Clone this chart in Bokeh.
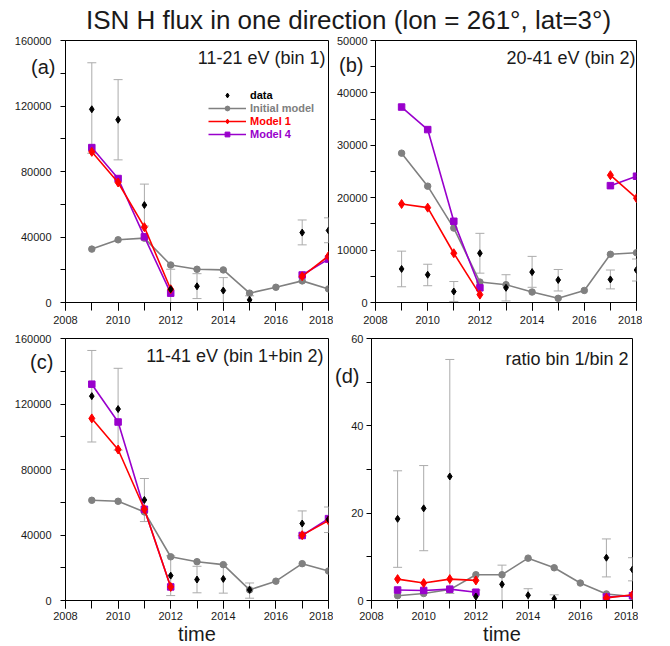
import math
from bokeh.plotting import figure
from bokeh.models import (ColumnDataSource, Whisker, TeeHead, Label, Legend, LegendItem,
                          FixedTicker, BasicTickFormatter, Range1d)
from bokeh.layouts import column, row
from bokeh.embed import file_html
from bokeh.resources import INLINE
from bokeh.core.properties import value

nan = float("nan")

# ---------------- data ----------------
years = [2009, 2010, 2011, 2012, 2013, 2014, 2015, 2016, 2017, 2018]
obs_years = [2009, 2010, 2011, 2012, 2013, 2014, 2015, 2017, 2018]

# panel (a) 11-21 eV (bin 1)
a_data = [118000, 111600, 59500, 8100, 9900, 7300, 1600, 42700, 44000]
a_hi = [146400, 136100, 72300, 20300, 17600, 15200, 4100, 50400, 51700]
a_lo = [91100, 87100, 46700, -3700, 2400, -1200, -2400, 35200, 36500]
a_init = [32600, 38300, 39300, 22900, 20300, 19900, 5700, 9300, 13200, 8300]
a_m1 = [92000, 73300, 46000, 8100, nan, nan, nan, nan, 16000, 28400]
a_m4 = [94600, 75700, 40100, 5700, nan, nan, nan, nan, 16800, 26500]

# panel (b) 20-41 eV (bin 2)
b_data = [6400, 5300, 2100, 9400, 2800, 5800, 4300, 4400, 6200]
b_hi = [9800, 7300, 4000, 13200, 5300, 8800, 6300, 6200, 8300]
b_lo = [3000, 3200, 200, 5600, 300, 2900, 2200, 2600, 4100]
b_init = [28500, 22200, 14200, 3900, 3400, 2000, 800, 2300, 9200, 9500]
b_m1 = [18800, 18100, 9400, 1500, nan, nan, nan, nan, 24300, 19900]
b_m4 = [37300, 33000, 15500, 2800, nan, nan, nan, nan, 22300, 24100]

# panel (c) 11-41 eV (bin 1+bin 2)
c_data = [124800, 116900, 61400, 15200, 12800, 13200, 6500, 47000, 49600]
c_hi = [152700, 141800, 74500, 27300, 20900, 21900, 10700, 54700, 57100]
c_lo = [96800, 91800, 48200, 3000, 4700, 4500, 1400, 39500, 41500]
c_init = [61200, 60600, 54100, 26700, 23700, 21900, 6500, 11800, 22500, 18000]
c_m1 = [111200, 92200, 55700, 8300, nan, nan, nan, nan, 39900, 48800]
c_m4 = [132100, 109000, 55700, 8300, nan, nan, nan, nan, 39700, 50000]

# panel (d) ratio bin 1/bin 2
d_data = [18.7, 21.1, 28.4, 0.9, 3.7, 1.2, 0.4, 9.8, 7.1]
d_hi = [29.7, 30.9, 55.2, 2.4, 8.1, 2.7, 1.3, 14.1, 9.8]
d_lo = [7.6, 11.4, 1.6, -0.4, -0.8, -0.2, -0.6, 5.4, 4.5]
d_init = [1.1, 1.6, 2.5, 5.9, 5.9, 9.7, 7.5, 4.0, 1.5, 0.9]
d_m1 = [4.9, 4.0, 4.9, 4.6, nan, nan, nan, nan, 0.6, 1.3]
d_m4 = [2.4, 2.3, 2.6, 1.9, nan, nan, nan, nan, 0.8, 1.1]

x_major = [2008, 2010, 2012, 2014, 2016, 2018]
x_minor = list(range(2008, 2019))

title_text = "ISN H flux in one direction (lon = 261°, lat=3°)"
legend_labels = ["data", "Initial model", "Model 1", "Model 4"]

FONT = "Liberation Sans"
C_ERR = "#ababab"
C_INIT = "#808080"
C_M1 = "#ff0000"
C_M4 = "#9900cc"
FH = 262


def make_panel(obs, hi, lo, init, m1, m4, ymax, ymajor, yminor, tag, name,
               tag_pos, name_pos, left, right, top, bottom, fw=263,
               ystand=9, xstand=5, xlabel=None):
    p = figure(frame_width=fw, frame_height=FH,
               x_range=Range1d(2008, 2018), y_range=Range1d(0, ymax),
               output_backend="svg", toolbar_location=None,
               min_border_left=left, min_border_right=right,
               min_border_top=top, min_border_bottom=bottom)
    p.xgrid.visible = False
    p.ygrid.visible = False
    p.outline_line_color = "black"
    p.outline_line_width = 1
    p.background_fill_color = "white"
    p.border_fill_color = "white"

    p.xaxis.ticker = FixedTicker(ticks=x_major, minor_ticks=x_minor)
    p.yaxis.ticker = FixedTicker(ticks=ymajor, minor_ticks=yminor)
    p.yaxis.formatter = BasicTickFormatter(use_scientific=False)
    p.xaxis.major_tick_out = 8
    p.xaxis.minor_tick_out = 8
    p.yaxis.major_tick_out = 5
    p.yaxis.minor_tick_out = 5
    p.axis.major_tick_in = 0
    p.axis.minor_tick_in = 0
    p.axis.axis_line_color = "black"
    p.axis.major_tick_line_color = "black"
    p.axis.minor_tick_line_color = "black"
    p.axis.major_label_text_font = FONT
    p.axis.major_label_text_font_size = "11px"
    p.axis.major_label_text_color = "#1a1a1a"
    p.xaxis.major_label_standoff = xstand
    p.yaxis.major_label_standoff = ystand
    if xlabel:
        p.xaxis.axis_label = xlabel
        p.xaxis.axis_label_text_font = FONT
        p.xaxis.axis_label_text_font_size = "20px"
        p.xaxis.axis_label_text_font_style = "normal"
        p.xaxis.axis_label_text_color = "#1a1a1a"
        p.xaxis.axis_label_standoff = 0

    src = ColumnDataSource(dict(x=obs_years, hi=hi, lo=lo))
    w = Whisker(source=src, base="x", upper="hi", lower="lo",
                line_color=C_ERR, line_width=1,
                upper_head=TeeHead(size=9, line_color=C_ERR, line_width=1),
                lower_head=TeeHead(size=9, line_color=C_ERR, line_width=1))
    p.add_layout(w)

    ri_l = p.line(years, init, line_color=C_INIT, line_width=1.6)
    ri_s = p.scatter(years, init, marker="circle", size=6.5,
                     fill_color=C_INIT, line_color=C_INIT)
    r4_l = p.line(years, m4, line_color=C_M4, line_width=1.6)
    r4_s = p.scatter(years, m4, marker="square", size=6.5,
                     fill_color=C_M4, line_color=C_M4)
    r1_l = p.line(years, m1, line_color=C_M1, line_width=1.6)
    r1_s = p.scatter(years, m1, marker="diamond", size=9,
                     fill_color=C_M1, line_color=C_M1)
    rd = p.scatter(obs_years, obs, marker="diamond", size=7,
                   fill_color="black", line_color="black")

    p.add_layout(Label(x=name_pos[0], y=name_pos[1], text=name, text_align="right",
                       text_baseline="middle", text_font=FONT,
                       text_font_size="18px", text_color="#1a1a1a"))
    # panel tag (left of the frame) as a text glyph on the overlay level
    p.text(x=[tag_pos[0]], y=[tag_pos[1]], text=[tag], text_align="right",
           text_baseline="middle", text_font=value(FONT),
           text_font_size="20px", text_color="#1a1a1a", level="overlay")
    return p, [[rd], [ri_l, ri_s], [r1_l, r1_s], [r4_l, r4_s]]


pa, rends = make_panel(a_data, a_hi, a_lo, a_init, a_m1, a_m4, 160000,
                       [0, 40000, 80000, 120000, 160000],
                       [20000, 60000, 100000, 140000],
                       "(a)", "11-21 eV (bin 1)", (2007.62, 144100), (2017.89, 149600),
                       65, 5, 6, 28)
pb, _ = make_panel(b_data, b_hi, b_lo, b_init, b_m1, b_m4, 50000,
                   [0, 10000, 20000, 30000, 40000, 50000],
                   [5000, 15000, 25000, 35000, 45000],
                   "(b)", "20-41 eV (bin 2)", (2007.54, 45400), (2017.96, 46750),
                   38, 6, 6, 28, fw=261, ystand=3)
pc, _ = make_panel(c_data, c_hi, c_lo, c_init, c_m1, c_m4, 160000,
                   [0, 40000, 80000, 120000, 160000],
                   [20000, 60000, 100000, 140000],
                   "(c)", "11-41 eV (bin 1+bin 2)", (2007.54, 145900), (2017.81, 149600),
                   65, 5, 8, 0, xstand=3, xlabel="time")
pd_, _ = make_panel(d_data, d_hi, d_lo, d_init, d_m1, d_m4, 60,
                    [0, 20, 40, 60], [10, 30, 50],
                    "(d)", "ratio bin 1/bin 2", (2007.54, 51.5), (2017.85, 55.2),
                    38, 6, 8, 0, fw=261, ystand=3, xstand=3, xlabel="time")

leg_colors = ["black", C_INIT, C_M1, C_M4]
leg_y = [201, 188, 175, 162]
for lab, col, rr, ly in zip(legend_labels, leg_colors, rends, leg_y):
    lg = Legend(items=[LegendItem(label=lab, renderers=rr)],
                location=(143, ly), orientation="vertical",
                padding=0, margin=0, spacing=0,
                border_line_color=None, background_fill_alpha=0,
                glyph_width=38, glyph_height=12, label_height=12,
                label_standoff=4, label_text_font=FONT,
                label_text_font_size="11px", label_text_font_style="bold",
                label_text_color=col)
    pa.add_layout(lg)

TW = 640
t = figure(width=TW, height=34, x_range=Range1d(0, TW), y_range=Range1d(0, 34),
           x_axis_type=None, y_axis_type=None, output_backend="svg",
           toolbar_location=None, min_border=0, title=None)
t.grid.visible = False
t.outline_line_color = None
t.add_layout(Label(x=348, y=15, text=title_text, text_align="center",
                   text_baseline="middle", text_font=FONT,
                   text_font_size="26px", text_color="#1a1a1a"))

layout = column(t, row(pa, pb), row(pc, pd_))
open("out.html", "w").write(file_html(layout, INLINE))
